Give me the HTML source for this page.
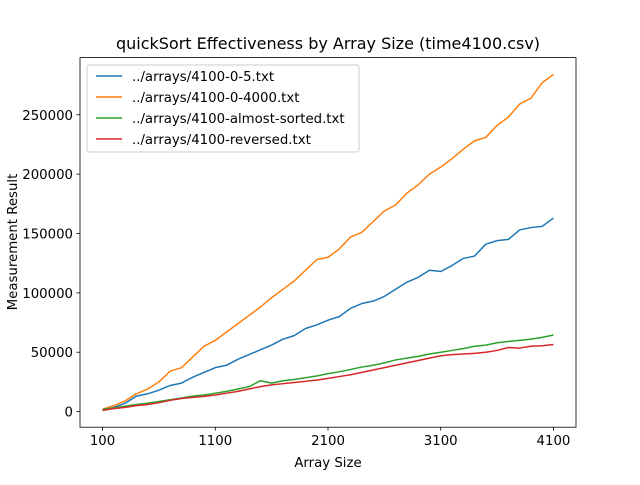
<!DOCTYPE html>
<html><head><meta charset="utf-8"><style>
body{margin:0;background:#fff;}
svg{font-family:"DejaVu Sans","Liberation Sans",sans-serif;}
</style></head><body>
<svg id="chart" width="640" height="480" viewBox="0 0 640 480" xmlns="http://www.w3.org/2000/svg">
<rect width="640" height="480" fill="#fff"/>
<text x="328" y="49" text-anchor="middle" font-size="16">quickSort Effectiveness by Array Size (time4100.csv)</text>
<g id="plot"></g>
<rect x="80" y="57.6" width="496" height="369.6" fill="none" stroke="#000" stroke-width="0.8"/>
<text x="328" y="467" text-anchor="middle" font-size="13.3">Array Size</text>
<text transform="translate(17,242) rotate(-90)" text-anchor="middle" font-size="13.3">Measurement Result</text>
<g id="legend"></g>
</svg>
<script>
const sizes=[100,200,300,400,500,600,700,800,900,1000,1100,1200,1300,1400,1500,1600,1700,1800,1900,2000,2100,2200,2300,2400,2500,2600,2700,2800,2900,3000,3100,3200,3300,3400,3500,3600,3700,3800,3900,4000,4100];
const s05=[1000,3500,7000,13000,15000,18000,22000,24000,29000,33000,37000,39000,44000,48000,52000,56000,61000,64000,70000,73000,77000,80000,87000,91000,93000,97000,103000,109000,113000,119000,118000,123000,129000,131000,141000,144000,145000,153000,155000,156000,163000];
const s04000=[2000,5000,9000,15000,19000,25000,34000,37000,46000,55000,60000,67000,74000,81000,88000,96000,103000,110000,119000,128000,130000,137000,147000,151000,160000,169000,174000,184000,191000,200000,206000,213000,221000,228000,231000,241000,248000,259000,264000,277000,284000];
const sAlmost=[2000,3000,4500,6000,7000,8500,10000,11500,13000,14000,15500,17000,19000,21000,26000,24000,26000,27000,28500,30000,32000,33500,35500,37500,39000,41000,43500,45000,46500,48500,50000,51500,53000,55000,56000,58000,59000,60000,61000,62500,64500];
const sRev=[1000,2500,3500,5000,6000,7500,9500,11000,12000,12800,14000,15500,17000,19000,21000,22500,23500,24500,25500,26500,28000,29500,31000,33000,35000,37000,39000,41000,43000,45000,47000,48000,48500,49000,50000,51500,54000,53500,55000,55500,56500];
const seriesNames=["../arrays/4100-0-5.txt","../arrays/4100-0-4000.txt","../arrays/4100-almost-sorted.txt","../arrays/4100-reversed.txt"];
const xTicks=[100,1100,2100,3100,4100];
const yTicks=[0,50000,100000,150000,200000,250000];
const colors=["#1f77b4","#ff7f0e","#2ca02c","#d62728"];
const all=[s05,s04000,sAlmost,sRev];
const NS="http://www.w3.org/2000/svg";
const xmin=-100,xmax=4300;
let dmin=Math.min(...all.flat()),dmax=Math.max(...all.flat());
const yr=dmax-dmin, ymin=dmin-0.05*yr, ymax=dmax+0.05*yr;
const X=v=>80+(v-xmin)/(xmax-xmin)*496;
const Y=v=>427.2-(v-ymin)/(ymax-ymin)*369.6;
const plot=document.getElementById('plot');
function mk(tag,attrs,parent){const e=document.createElementNS(NS,tag);for(const k in attrs)e.setAttribute(k,attrs[k]);parent.appendChild(e);return e;}
xTicks.forEach(t=>{
  const g=mk('g',{},plot);
  
  
  mk('line',{x1:X(t),x2:X(t),y1:427.2,y2:430.7,stroke:'#000','stroke-width':0.8},g);
  const tx=mk('text',{x:X(t),y:445,'text-anchor':'middle','font-size':13.3},g);tx.textContent=t;
});
yTicks.forEach(t=>{
  const g=mk('g',{},plot);
  
  
  mk('line',{x1:76.5,x2:80,y1:Y(t),y2:Y(t),stroke:'#000','stroke-width':0.8},g);
  const tx=mk('text',{x:73,y:Y(t)+5,'text-anchor':'end','font-size':13.3},g);tx.textContent=t;
});
all.forEach((s,i)=>{
  const p=mk('polyline',{points:s.map((v,j)=>X(sizes[j])+','+Y(v)).join(' '),fill:'none',stroke:colors[i],'stroke-width':1.5,'stroke-linejoin':'round'},plot);
  
  
});
const lg=document.getElementById('legend');


mk('rect',{x:87,y:65,width:272,height:87,rx:2,fill:'#fff','fill-opacity':0.8,stroke:'#ccc','stroke-width':1},lg);
seriesNames.forEach((n,i)=>{
  const g=mk('g',{},lg);
  
  
  const y=76+i*21;
  mk('line',{x1:96,x2:122,y1:y,y2:y,stroke:colors[i],'stroke-width':1.5},g);
  const t=mk('text',{x:132,y:y+5,'font-size':13.3},g);t.textContent=n;
});
</script>
</body></html>
